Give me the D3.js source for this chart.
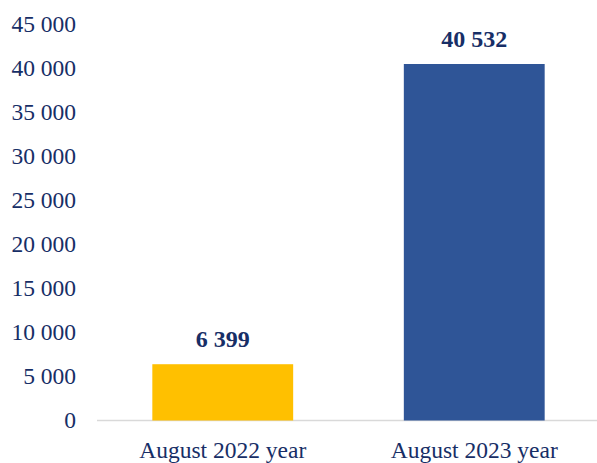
<!DOCTYPE html>
<html><head><meta charset="utf-8">
<script src="https://cdn.jsdelivr.net/npm/d3@7"></script>
<style>body{margin:0;background:#fff}</style>
</head><body>
<svg id="c" width="597" height="463"></svg>
<script>
const categories = ["August 2022 year", "August 2023 year"];
const values = [6399, 40532];
const colors = ["#FFC000", "#2F5597"];
const yTicks = [0, 5000, 10000, 15000, 20000, 25000, 30000, 35000, 40000, 45000];

const svg = d3.select("#c");
const textColor = "#172E66";
const font = "'Liberation Serif', 'Times New Roman', serif";
const x = d3.scaleBand().domain(categories).range([97, 600]).paddingInner(0.44).paddingOuter(0.22);
const y = d3.scaleLinear().domain([0, 45000]).range([420.5, 24.7]);
const fmt = v => d3.format(",")(v).replace(/,/g, " ");

// baseline
svg.append("line").attr("x1", 97).attr("x2", 597).attr("y1", y(0)).attr("y2", y(0))
  .attr("stroke", "#D9D9D9").attr("stroke-width", 1.5);

// y tick labels
svg.selectAll(".yt").data(yTicks).enter().append("text")
  .attr("x", 76).attr("y", d => y(d)).attr("dy", "0.33em")
  .attr("text-anchor", "end").attr("fill", textColor)
  .style("font-family", font).style("font-size", "23.5px")
  .text(fmt);

// bars
svg.selectAll(".bar").data(values).enter().append("rect")
  .attr("x", (d, i) => x(categories[i])).attr("width", x.bandwidth())
  .attr("y", d => y(d)).attr("height", d => y(0) - y(d))
  .attr("fill", (d, i) => colors[i]);

// value labels
svg.selectAll(".vl").data(values).enter().append("text")
  .attr("x", (d, i) => x(categories[i]) + x.bandwidth() / 2)
  .attr("y", d => y(d) - 17)
  .attr("text-anchor", "middle").attr("fill", textColor)
  .style("font-family", font).style("font-size", "24px").style("font-weight", "bold")
  .text(fmt);

// category labels
svg.selectAll(".cl").data(categories).enter().append("text")
  .attr("x", d => x(d) + x.bandwidth() / 2).attr("y", 458)
  .attr("text-anchor", "middle").attr("fill", textColor)
  .style("font-family", font).style("font-size", "23.5px")
  .text(d => d);
</script>
</body></html>
